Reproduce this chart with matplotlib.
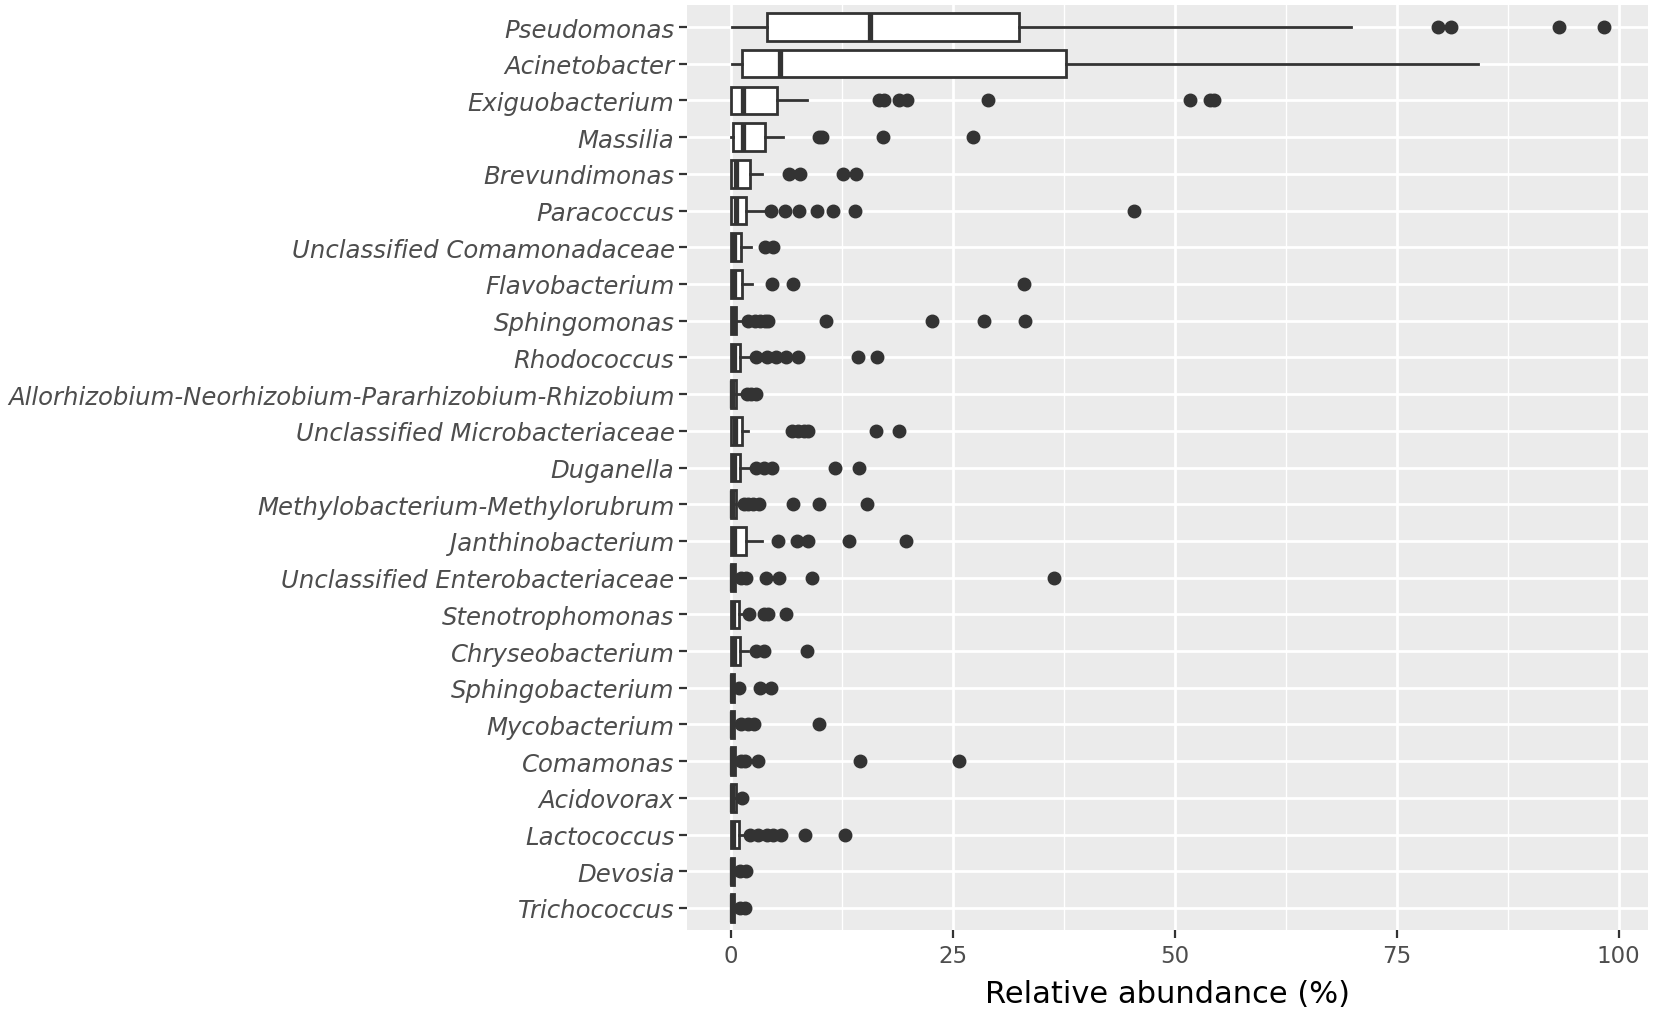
import matplotlib
matplotlib.use("Agg")
import matplotlib.pyplot as plt
from matplotlib.ticker import MultipleLocator

genera = ["Pseudomonas", "Acinetobacter", "Exiguobacterium", "Massilia", "Brevundimonas",
          "Paracoccus", "Unclassified Comamonadaceae", "Flavobacterium", "Sphingomonas",
          "Rhodococcus", "Allorhizobium-Neorhizobium-Pararhizobium-Rhizobium",
          "Unclassified Microbacteriaceae", "Duganella", "Methylobacterium-Methylorubrum",
          "Janthinobacterium", "Unclassified Enterobacteriaceae", "Stenotrophomonas",
          "Chryseobacterium", "Sphingobacterium", "Mycobacterium", "Comamonas",
          "Acidovorax", "Lactococcus", "Devosia", "Trichococcus"]

whislo = [0.1, 0.1, 0.0, 0.0, 0.0, 0.0, 0.0, 0.0, 0.0, 0.0, 0.0, 0.0, 0.0, 0.0, 0.0,
          0.0, 0.0, 0.0, 0.0, 0.0, 0.0, 0.0, 0.0, 0.0, 0.0]
q1 = [4.05, 1.3, 0.05, 0.3, 0.0, 0.0, 0.05, 0.0, 0.0, 0.0, 0.0, 0.0, 0.0, 0.0, 0.0,
      0.0, 0.0, 0.0, 0.0, 0.0, 0.0, 0.0, 0.0, 0.0, 0.0]
med = [15.7, 5.5, 1.4, 1.4, 0.6, 0.55, 0.35, 0.4, 0.25, 0.35, 0.2, 0.45, 0.4, 0.2, 0.35,
       0.15, 0.3, 0.35, 0.1, 0.1, 0.15, 0.15, 0.3, 0.1, 0.1]
q3 = [32.5, 37.8, 5.2, 3.9, 2.2, 1.7, 1.2, 1.25, 0.6, 1.1, 0.55, 1.3, 1.1, 0.55, 1.7,
      0.45, 0.9, 1.05, 0.4, 0.4, 0.5, 0.55, 0.9, 0.4, 0.4]
whishi = [69.8, 84.1, 8.6, 5.9, 3.5, 3.75, 2.3, 2.4, 1.5, 2.4, 1.3, 1.9, 2.2, 1.2, 3.5,
          0.9, 1.4, 2.0, 0.8, 0.9, 1.0, 1.0, 1.7, 0.8, 0.8]
outliers = [
    [79.7, 81.1, 93.3, 98.4],
    [],
    [16.7, 17.3, 19.0, 19.8, 29.0, 51.7, 54.0, 54.4],
    [9.9, 10.3, 17.1, 27.3],
    [6.6, 7.8, 12.7, 14.1],
    [4.5, 6.1, 7.7, 9.75, 11.5, 14.0, 45.4],
    [3.9, 4.8],
    [4.7, 7.0, 33.0],
    [2.0, 2.7, 3.3, 3.9, 4.2, 10.7, 22.7, 28.5, 33.1],
    [2.85, 4.05, 5.1, 6.2, 7.6, 14.3, 16.5],
    [1.8, 2.3, 2.8],
    [6.9, 7.6, 8.2, 8.7, 16.4, 19.0],
    [2.85, 3.7, 4.7, 11.8, 14.5],
    [1.5, 2.0, 2.5, 3.2, 7.0, 10.0, 15.3],
    [5.3, 7.5, 8.7, 13.3, 19.7],
    [1.2, 1.7, 4.0, 5.4, 9.2, 36.4],
    [2.06, 3.7, 4.2, 6.2],
    [2.9, 3.75, 8.6],
    [0.9, 3.3, 4.5],
    [1.2, 1.9, 2.6, 9.9],
    [1.2, 1.6, 3.1, 14.6, 25.7],
    [1.3],
    [2.2, 3.1, 4.05, 4.8, 5.7, 8.4, 12.9],
    [1.0, 1.7],
    [1.0, 1.6],
]

dark = "#333333"
stats = []
for i, name in enumerate(genera):
    stats.append(dict(label=name, whislo=whislo[i], q1=q1[i], med=med[i], q3=q3[i],
                      whishi=whishi[i], fliers=outliers[i]))

fig = plt.figure(figsize=(16.54, 10.12), dpi=100)
ax = fig.add_axes([687 / 1654, 1 - 931 / 1012, (1648 - 687) / 1654, (931 - 6) / 1012])
ax.set_facecolor("#EBEBEB")
for s in ax.spines.values():
    s.set_visible(False)

positions = list(range(len(genera)))
ax.bxp(stats, positions=positions, orientation="horizontal", widths=0.75,
       showcaps=False, patch_artist=True,
       boxprops=dict(facecolor="white", edgecolor=dark, linewidth=2),
       whiskerprops=dict(color=dark, linewidth=2),
       medianprops=dict(color=dark, linewidth=3.8, solid_capstyle="butt"),
       flierprops=dict(marker="o", markerfacecolor=dark, markeredgecolor=dark,
                       markersize=9, linestyle="none"))

ax.set_xlim(-4.92, 103.3)
ax.set_ylim(len(genera) - 0.4, -0.6)
ax.xaxis.set_major_locator(MultipleLocator(25))
ax.xaxis.set_minor_locator(MultipleLocator(12.5))
ax.set_axisbelow(True)
ax.grid(which="major", color="white", linewidth=2)
ax.grid(which="minor", axis="x", color="white", linewidth=1)

ax.set_yticks(positions)
ax.set_yticklabels(genera, fontstyle="italic")
ax.tick_params(axis="both", which="major", length=6, width=1.6, color=dark,
               labelcolor="#4D4D4D", pad=3)
ax.tick_params(axis="y", labelsize=17.6)
ax.tick_params(axis="x", labelsize=16.5, pad=4)
ax.tick_params(axis="x", which="minor", length=0)
ax.set_xlabel("Relative abundance (%)", fontsize=22, color="black", labelpad=9)

fig.savefig("out.png", dpi=100)
